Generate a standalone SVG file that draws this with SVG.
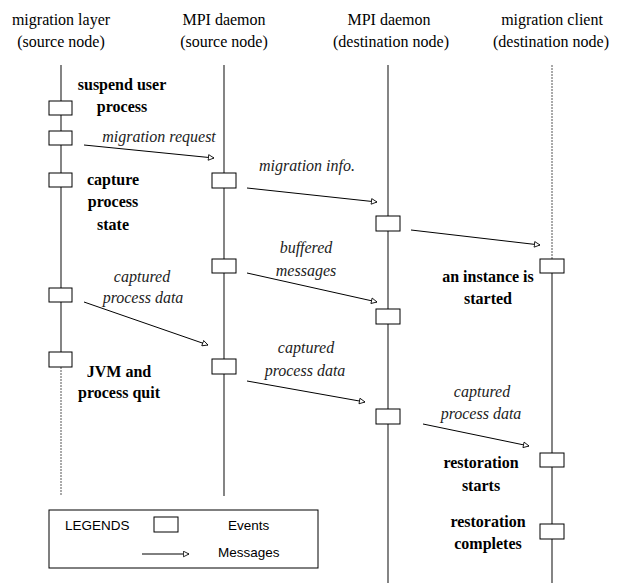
<svg xmlns="http://www.w3.org/2000/svg" width="619" height="583" viewBox="0 0 619 583">
<defs>
<marker id="arr" viewBox="0 0 10 10" refX="9" refY="5" markerWidth="7" markerHeight="7" markerUnits="userSpaceOnUse" orient="auto">
<path d="M1,1 L9,5 L1,9 Z" fill="#fff" stroke="#000" stroke-width="1.2"/>
</marker>
<style>
.hdr{font-family:'Liberation Serif','Times New Roman',serif;font-size:16px;text-anchor:middle;fill:#000}
.b{font-family:'Liberation Serif','Times New Roman',serif;font-size:16px;font-weight:bold;text-anchor:middle;fill:#000}
.i{font-family:'Liberation Serif','Times New Roman',serif;font-size:16px;font-style:italic;text-anchor:middle;fill:#222}
.s{font-family:'Liberation Sans',Arial,sans-serif;font-size:13.5px;fill:#000}
.life{stroke:#333;stroke-width:1.2;fill:none}
.dash{stroke:#555;stroke-width:1;stroke-dasharray:2,1;fill:none}
.ev{fill:#fff;stroke:#000;stroke-width:1}
.msg{stroke:#000;stroke-width:1;fill:none;marker-end:url(#arr)}
</style>
</defs>
<rect width="619" height="583" fill="#fff"/>

<g id="lifelines">
<line class="life" x1="61" y1="65" x2="61" y2="352"/>
<line class="dash" x1="61" y1="367" x2="61" y2="496"/>
<line class="life" x1="224" y1="65" x2="224" y2="496"/>
<line class="life" x1="388" y1="65" x2="388" y2="583"/>
<line class="dash" x1="552" y1="65" x2="552" y2="259"/>
<line class="life" x1="552" y1="273" x2="552" y2="583"/>
</g>

<g id="headers">
<text class="hdr" x="61" y="25">migration layer</text>
<text class="hdr" x="61" y="47">(source node)</text>
<text class="hdr" x="224" y="25">MPI daemon</text>
<text class="hdr" x="224" y="47">(source node)</text>
<text class="hdr" x="389" y="25">MPI daemon</text>
<text class="hdr" x="391" y="47">(destination node)</text>
<text class="hdr" x="552" y="25">migration client</text>
<text class="hdr" x="551" y="47">(destination node)</text>
</g>

<g id="connectors">
<line class="msg" x1="84" y1="145" x2="214" y2="158"/>
<line class="msg" x1="247" y1="188" x2="377" y2="202"/>
<line class="msg" x1="411" y1="230" x2="540" y2="245"/>
<line class="msg" x1="247" y1="273" x2="377" y2="302"/>
<line class="msg" x1="84" y1="302" x2="208" y2="345"/>
<line class="msg" x1="247" y1="381" x2="365" y2="402"/>
<line class="msg" x1="423" y1="424" x2="529" y2="446"/>
</g>

<g id="events-migration-layer">
<rect class="ev" x="49" y="101" width="23" height="14"/>
<rect class="ev" x="49" y="131" width="23" height="14"/>
<rect class="ev" x="49" y="173" width="23" height="14"/>
<rect class="ev" x="49" y="288" width="23" height="14"/>
<rect class="ev" x="49" y="352" width="23" height="15"/>
</g>
<g id="events-mpi-source">
<rect class="ev" x="212" y="173" width="24" height="15"/>
<rect class="ev" x="212" y="259" width="24" height="14"/>
<rect class="ev" x="212" y="359" width="24" height="15"/>
</g>
<g id="events-mpi-dest">
<rect class="ev" x="376" y="216" width="24" height="15"/>
<rect class="ev" x="376" y="309" width="24" height="15"/>
<rect class="ev" x="376" y="409" width="24" height="15"/>
</g>
<g id="events-client">
<rect class="ev" x="540" y="259" width="24" height="14"/>
<rect class="ev" x="540" y="453" width="24" height="14"/>
<rect class="ev" x="540" y="524" width="24" height="15"/>
</g>

<g id="event-labels">
<text class="b" x="122" y="90">suspend user</text>
<text class="b" x="122" y="112">process</text>
<text class="b" x="113" y="185">capture</text>
<text class="b" x="113" y="207">process</text>
<text class="b" x="113" y="230">state</text>
<text class="b" x="119" y="377">JVM and</text>
<text class="b" x="119" y="398">process quit</text>
<text class="b" x="488" y="282">an instance is</text>
<text class="b" x="488" y="304">started</text>
<text class="b" x="481" y="468">restoration</text>
<text class="b" x="481" y="491">starts</text>
<text class="b" x="488" y="527">restoration</text>
<text class="b" x="488" y="549">completes</text>
</g>

<g id="message-labels">
<text class="i" x="159" y="142">migration request</text>
<text class="i" x="307" y="171">migration info.</text>
<text class="i" x="306" y="253">buffered</text>
<text class="i" x="306" y="276">messages</text>
<text class="i" x="142" y="282">captured</text>
<text class="i" x="143" y="303">process data</text>
<text class="i" x="306" y="353">captured</text>
<text class="i" x="305" y="376">process data</text>
<text class="i" x="482" y="397">captured</text>
<text class="i" x="481" y="419">process data</text>
</g>

<g id="legend">
<rect x="49" y="510" width="269" height="58" fill="#fff" stroke="#000" stroke-width="1"/>
<text class="s" x="65" y="530">LEGENDS</text>
<rect class="ev" x="154" y="517" width="24" height="15"/>
<text class="s" x="228" y="530">Events</text>
<line class="msg" x1="142" y1="554" x2="189" y2="554"/>
<text class="s" x="218" y="557">Messages</text>
</g>
</svg>
